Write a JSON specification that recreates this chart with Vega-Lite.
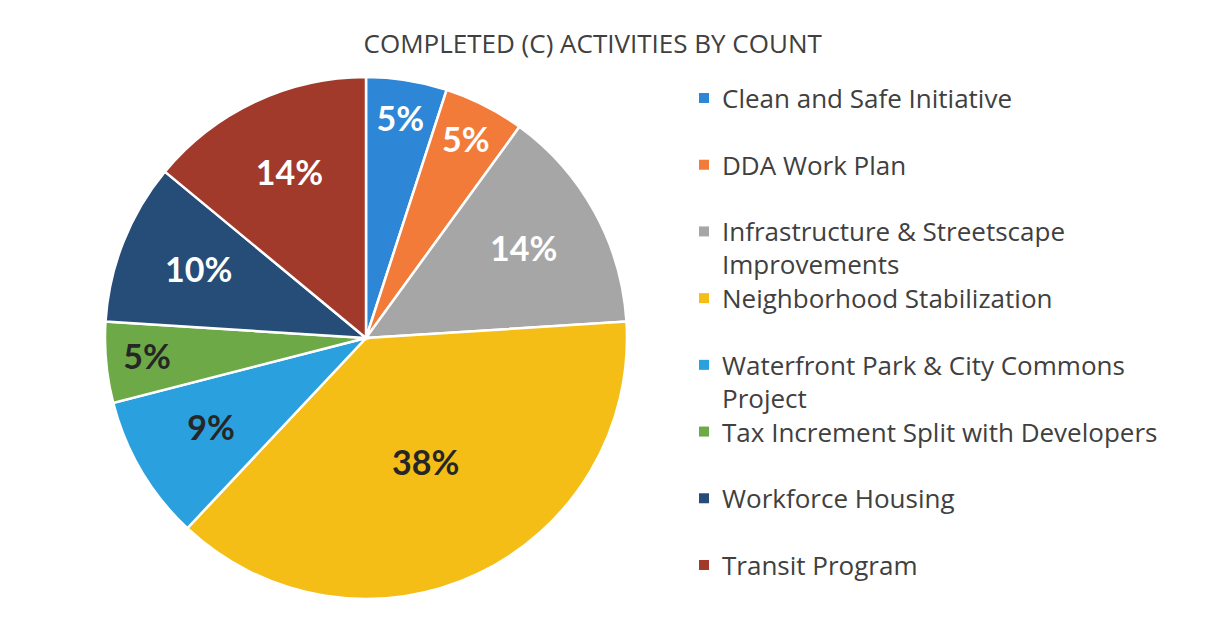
{
  "$schema": "https://vega.github.io/schema/vega-lite/v6.json",
  "background": "white",
  "padding": {"left": 96, "top": 32, "right": 5, "bottom": 5},
  "title": {"text": "COMPLETED (C) ACTIVITIES  BY COUNT", "fontSize": 26, "font": "Open Sans", "fontWeight": "normal", "color": "#404040", "anchor": "middle", "offset": 10, "dx": -34},
  "datasets": {
    "d": [
      {"cat": "Clean and Safe Initiative", "label": "Clean and Safe Initiative", "pct": 0.05, "ord": 1},
      {"cat": "DDA Work Plan", "label": "DDA Work Plan", "pct": 0.05, "ord": 2},
      {"cat": "Infrastructure & Streetscape Improvements", "label": "Infrastructure & Streetscape\nImprovements", "pct": 0.14, "ord": 3},
      {"cat": "Neighborhood Stabilization", "label": "Neighborhood Stabilization", "pct": 0.38, "ord": 4},
      {"cat": "Waterfront Park & City Commons Project", "label": "Waterfront Park & City Commons\nProject", "pct": 0.09, "ord": 5},
      {"cat": "Tax Increment Split with Developers", "label": "Tax Increment Split with Developers", "pct": 0.05, "ord": 6},
      {"cat": "Workforce Housing", "label": "Workforce Housing", "pct": 0.10, "ord": 7},
      {"cat": "Transit Program", "label": "Transit Program", "pct": 0.14, "ord": 8}
    ]
  },
  "config": {"view": {"stroke": null}, "concat": {"spacing": 60}},
  "hconcat": [
    {
      "width": 540,
      "height": 540,
      "data": {"name": "d"},
      "encoding": {
        "theta": {"field": "pct", "type": "quantitative", "stack": true},
        "order": {"field": "ord", "type": "quantitative"}
      },
      "layer": [
        {
          "mark": {"type": "arc", "outerRadius": 261, "stroke": "white", "strokeWidth": 2.5},
          "encoding": {
            "color": {
              "field": "cat", "type": "nominal", "legend": null,
              "scale": {
                "domain": ["Clean and Safe Initiative", "DDA Work Plan", "Infrastructure & Streetscape Improvements", "Neighborhood Stabilization", "Waterfront Park & City Commons Project", "Tax Increment Split with Developers", "Workforce Housing", "Transit Program"],
                "range": ["#2E86D6", "#F27B3A", "#A6A6A6", "#F4BE16", "#2AA0DF", "#6EA947", "#254D78", "#A23A2B"]
              }
            }
          }
        },
        {
          "mark": {"type": "text", "font": "Lato", "fontWeight": "bold", "fontSize": 34, "align": "center", "baseline": "middle"},
          "encoding": {
            "radius": {"value": {"expr": "datum.pct < 0.06 ? 220 : (datum.pct > 0.3 ? 140 : 180)"}},
            "text": {"field": "pct", "type": "quantitative", "format": ".0%"},
            "color": {
              "condition": {"test": "datum.ord == 4 || datum.ord == 5 || datum.ord == 6", "value": "#262626"},
              "value": "#FFFFFF"
            }
          }
        }
      ]
    },
    {
      "width": 16,
      "height": 527,
      "data": {"name": "d"},
      "encoding": {
        "y": {"field": "cat", "type": "nominal", "sort": {"field": "ord", "op": "min"}, "scale": {"type": "point", "padding": 0.45}, "axis": null}
      },
      "layer": [
        {
          "mark": {"type": "point", "shape": "square", "filled": true, "size": 100, "opacity": 1},
          "encoding": {
            "color": {
              "field": "cat", "type": "nominal", "legend": null,
              "scale": {
                "domain": ["Clean and Safe Initiative", "DDA Work Plan", "Infrastructure & Streetscape Improvements", "Neighborhood Stabilization", "Waterfront Park & City Commons Project", "Tax Increment Split with Developers", "Workforce Housing", "Transit Program"],
                "range": ["#2E86D6", "#F27B3A", "#A6A6A6", "#F4BE16", "#2AA0DF", "#6EA947", "#254D78", "#A23A2B"]
              }
            }
          }
        },
        {
          "mark": {"type": "text", "align": "left", "baseline": "alphabetic", "dx": 18, "dy": 10, "font": "Open Sans", "fontSize": 26, "color": "#404040", "lineBreak": "\n", "lineHeight": 33},
          "encoding": {"text": {"field": "label"}}
        }
      ]
    }
  ]
}
